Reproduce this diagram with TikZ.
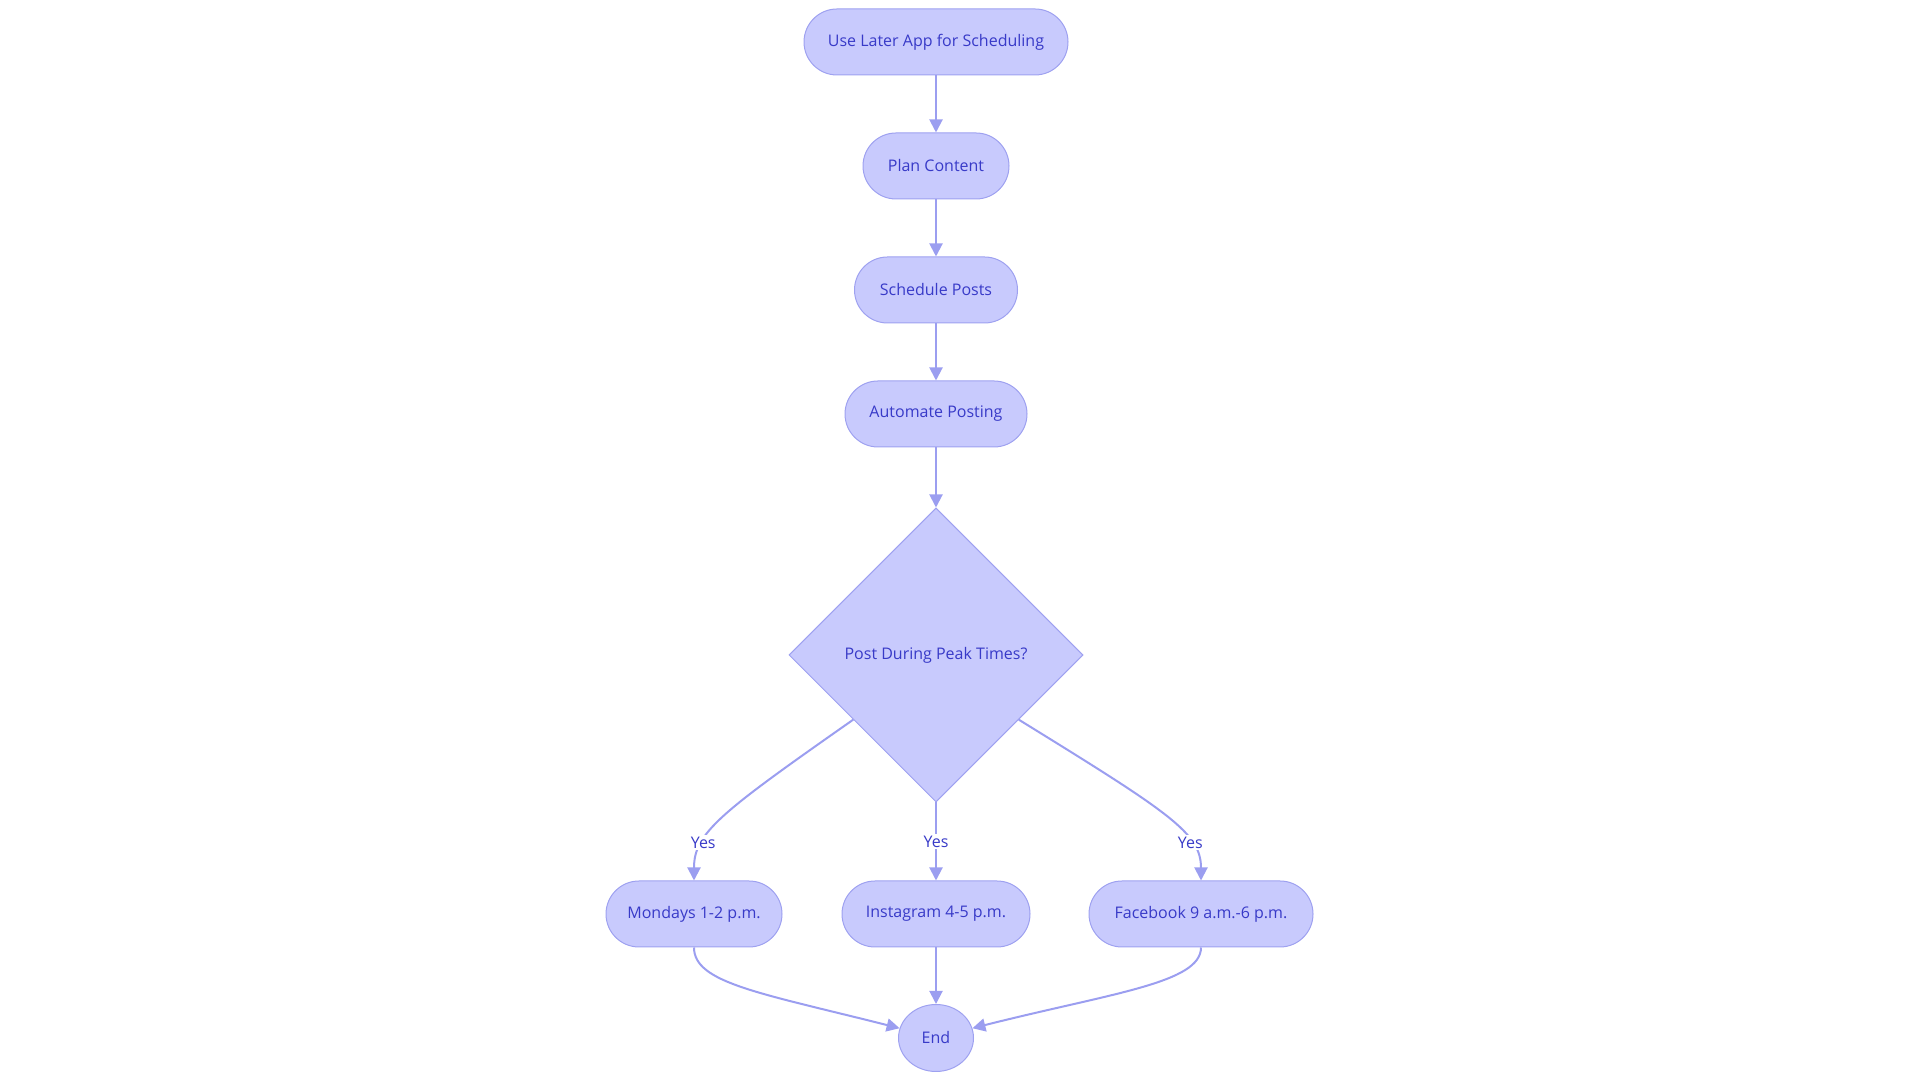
\documentclass[tikz,border=0pt]{standalone}
\usepackage{fontspec}
\setmainfont{Open Sans}
\usetikzlibrary{arrows.meta}
\usetikzlibrary{shapes.geometric}

\definecolor{boxfill}{RGB}{200,202,253}
\definecolor{boxline}{RGB}{158,161,240}
\definecolor{linkline}{RGB}{155,158,240}
\definecolor{boxtext}{RGB}{56,58,200}

\begin{document}
\begin{tikzpicture}[x=1pt,y=1pt,
  >={Triangle[length=13pt,width=13pt]},
  stadium/.style={rectangle,rounded corners=33pt,minimum height=66pt,inner sep=0pt,
    fill=boxfill,draw=boxline,line width=1pt,text=boxtext,font=\fontsize{16}{19}\selectfont},
  choice/.style={diamond,aspect=1,minimum size=294pt,inner sep=0pt,
    fill=boxfill,draw=boxline,line width=1pt,text=boxtext,font=\fontsize{16}{19}\selectfont},
  finish/.style={ellipse,minimum width=75pt,minimum height=67pt,inner sep=0pt,
    fill=boxfill,draw=boxline,line width=1pt,text=boxtext,font=\fontsize{16}{19}\selectfont},
  link/.style={->,draw=linkline,line width=2pt},
  yes/.style={fill=white,text=boxtext,inner sep=1.5pt,font=\fontsize{16}{19}\selectfont}]

  \useasboundingbox (0,0) rectangle (1920,1083);

    \node[stadium,minimum width=264pt] (later) at (936,1041) {Use Later App for Scheduling};
    \node[stadium,minimum width=146pt] (plan) at (936,917) {Plan Content};
    \node[stadium,minimum width=163pt] (sched) at (936,793) {Schedule Posts};
    \node[stadium,minimum width=182pt] (auto) at (936,669) {Automate Posting};
    \node[choice] (peak) at (936,428) {Post During Peak Times?};

    \node[stadium,minimum width=176pt] (mon) at (694,169) {Mondays 1-2 p.m.};
    \node[stadium,minimum width=188pt] (insta) at (936,169) {Instagram 4-5 p.m.};
    \node[stadium,minimum width=224pt] (fb) at (1201,169) {Facebook 9 a.m.-6 p.m.};
    \node[finish] (end) at (936,45) {End};

    \draw[link] (later) -- (plan);
    \draw[link] (plan) -- (sched);
    \draw[link] (sched) -- (auto);
    \draw[link] (auto) -- (peak);

    \draw[link] (peak.218) .. controls (720,270) and (694,250) .. node[yes,pos=0.7] {Yes} (mon.north);
    \draw[link] (peak.south) -- node[yes] {Yes} (insta.north);
    \draw[link] (peak.322) .. controls (1170,270) and (1201,250) .. node[yes,pos=0.7] {Yes} (fb.north);

    \draw[link] (mon.south) .. controls (694,100) and (760,90) .. (end.165);
    \draw[link] (insta) -- (end);
    \draw[link] (fb.south) .. controls (1201,100) and (1112,90) .. (end.15);

\end{tikzpicture}
\end{document}
